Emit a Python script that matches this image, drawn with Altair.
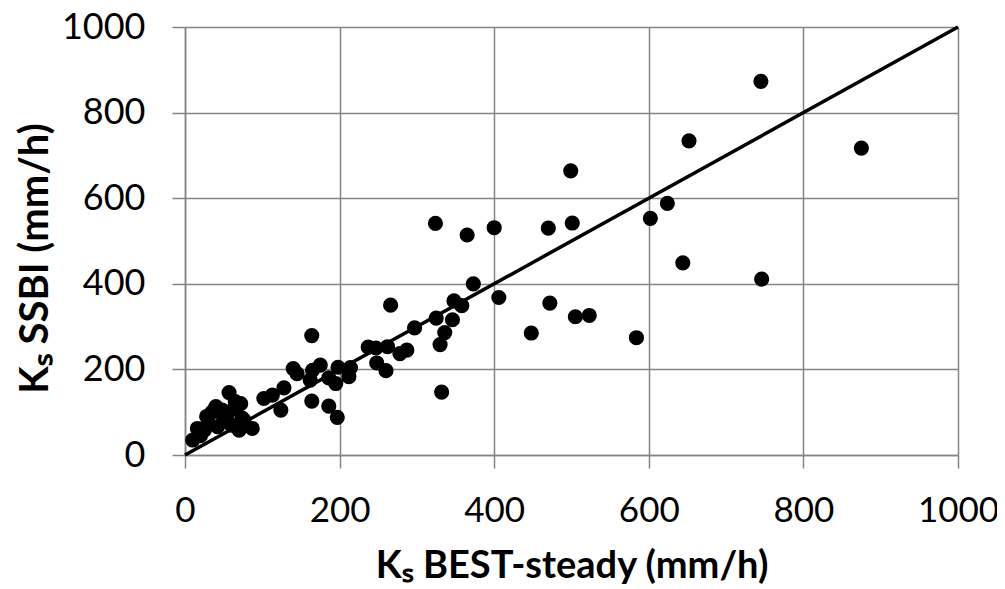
import altair as alt
import pandas as pd

best_steady = [745, 652, 875, 499, 501, 624, 602, 644, 746, 505, 523, 584, 472, 448, 470,
               400, 365, 324, 373, 406, 266, 164, 348, 358, 325, 346, 336, 330, 297, 332,
               237, 247, 262, 287, 278, 248, 260, 140, 175, 165, 186, 198, 214, 212, 195,
               164, 186, 197, 128, 124, 102, 113, 57, 72, 40, 28, 16, 87, 76, 42,
               10, 25, 50, 63, 74, 70, 35, 20, 55, 60, 30, 65, 48, 162, 145]
ssbi = [873, 734, 717, 664, 542, 588, 553, 449, 411, 323, 326, 274, 355, 285, 530,
        531, 514, 541, 400, 368, 350, 279, 360, 349, 320, 316, 286, 258, 297, 147,
        252, 250, 253, 245, 237, 215, 197, 202, 210, 198, 180, 205, 204, 183, 167,
        126, 114, 88, 157, 105, 132, 140, 146, 120, 113, 90, 62, 62, 82, 66,
        35, 58, 86, 108, 86, 58, 100, 45, 95, 70, 75, 125, 105, 175, 190]

line_x = [0, 1000]
line_y = [0, 1000]
ticks = [0, 200, 400, 600, 800, 1000]

pts = pd.DataFrame({"x": best_steady, "y": ssbi})
ln = pd.DataFrame({"x": line_x, "y": line_y})

FONT = "Lato"
GRID = "#858585"
xs = alt.Scale(domain=[0, 1000], nice=False)
ys = alt.Scale(domain=[0, 1000], nice=False)

xaxis = alt.Axis(values=ticks, format="d", title="Kₛ BEST-steady (mm/h)", labelFontSize=35,
                 titleFontSize=38, titleFontWeight="bold", labelFont=FONT, titleFont=FONT,
                 labelColor="black", titleColor="black", tickSize=13, labelPadding=25,
                 titleBaseline="alphabetic", titleY=122,
                 gridColor=GRID, gridWidth=1.5, domainColor=GRID,
                 domainWidth=1.5, tickColor=GRID, tickWidth=1.5, labelFlush=False)
yaxis = alt.Axis(values=ticks, format="d", title="Kₛ SSBI (mm/h)", labelFontSize=36,
                 titleFontSize=40, titleFontWeight="bold", labelFont=FONT, titleFont=FONT,
                 labelColor="black", titleColor="black", tickSize=13, labelPadding=27,
                 titleBaseline="middle", titleX=-150, titleY=231, titleAngle=270,
                 gridColor=GRID, gridWidth=1.5, domainColor=GRID,
                 domainWidth=1.5, tickColor=GRID, tickWidth=1.5, labelFlush=False)

points = alt.Chart(pts).mark_circle(size=230, color="black", opacity=1).encode(
    x=alt.X("x:Q", scale=xs, axis=xaxis),
    y=alt.Y("y:Q", scale=ys, axis=yaxis),
)
line = alt.Chart(ln).mark_line(color="black", strokeWidth=3.5).encode(
    x=alt.X("x:Q", scale=xs),
    y=alt.Y("y:Q", scale=ys),
)

chart = alt.layer(points, line).properties(
    width=773, height=428,
    autosize=alt.AutoSizeParams(type="none"),
    padding={"left": 177, "top": 19, "right": 39, "bottom": 134},
).configure_view(stroke=GRID, strokeWidth=1.5).configure(background="white")

chart.save("out.html", embed_options={"renderer": "svg", "actions": False})
